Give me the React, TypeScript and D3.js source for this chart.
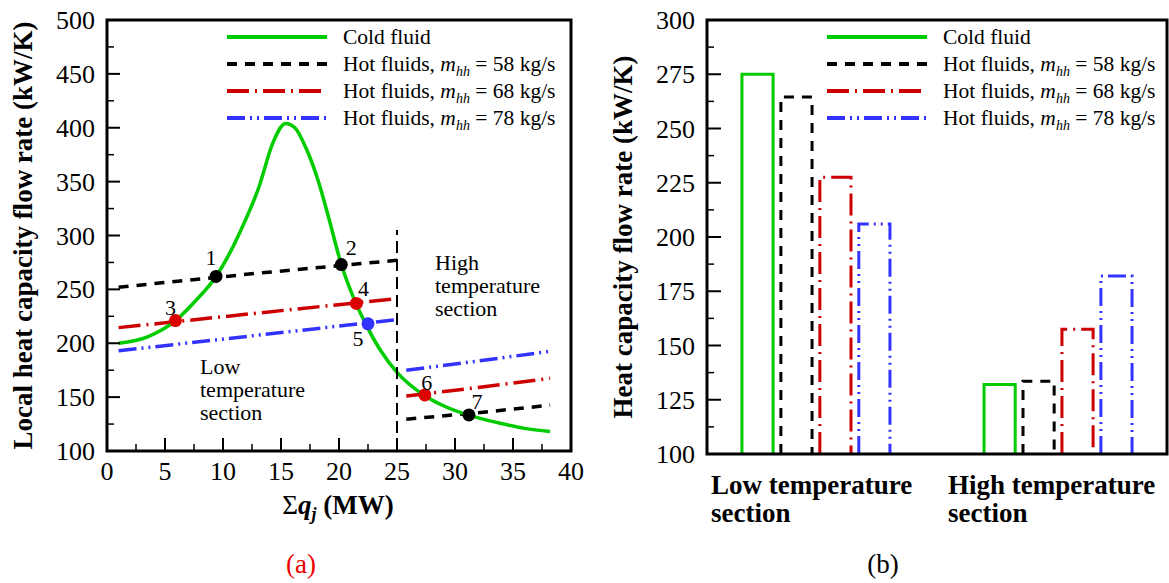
import React from 'react';
import * as d3 from 'd3';

// ---- data ----
// (a) local heat capacity flow rate vs cumulative duty
const coldQ = [1, 3.5, 5.9, 7.6, 9.4, 10.5, 11.5, 13.1, 14.3, 15.4, 16.2, 17.2, 18.2, 19.1, 20.2, 21.3, 22.3, 23.6, 25, 27.3, 29, 31.1, 33.8, 36, 38.2];
const coldC = [200, 206, 221, 239, 262, 282, 304, 345, 386, 404, 400, 380, 351, 317, 273, 241, 218, 193, 173, 152, 142, 133.5, 126, 121, 118];

const qLow = [1, 13, 25];
const qHigh = [25.8, 32, 38.2];
const hot58Low = [252, 265, 277];
const hot58High = [129.5, 135.5, 142.5];
const hot68Low = [214.5, 228, 241.5];
const hot68High = [151, 159, 167.5];
const hot78Low = [193, 207.5, 222];
const hot78High = [175, 183.5, 192.5];

const pinchLabels = ['1', '2', '3', '4', '5', '6', '7'];
const pinchQ = [9.4, 20.2, 5.9, 21.5, 22.5, 27.4, 31.2];
const pinchC = [262, 273, 221, 237, 218, 152, 133.5];
const pinchSeries = [58, 58, 68, 68, 78, 68, 58];

const sectionBoundary = 25;
const boundaryTop = 305;

// (b) section averages
const sections = ['Low temperature section', 'High temperature section'];
const coldBars = [275, 132];
const hot58Bars = [264.5, 133.5];
const hot68Bars = [227.5, 157.5];
const hot78Bars = [206, 182];

const leftTicksY = [100, 150, 200, 250, 300, 350, 400, 450, 500];
const leftTicksX = [0, 5, 10, 15, 20, 25, 30, 35, 40];
const rightTicksY = [100, 125, 150, 175, 200, 225, 250, 275, 300];

// ---- styles ----
const FONT = '"Liberation Serif", "Times New Roman", serif';
const GREEN = '#00cc00';
const RED = '#cc0000';
const BLUE = '#3333ff';

type Style = { color: string; dash: string; width: number };
const styles: Record<string, Style> = {
  cold: { color: GREEN, dash: '', width: 3.5 },
  '58': { color: '#000000', dash: '10,8', width: 3.5 },
  '68': { color: RED, dash: '22,6,2,6', width: 3.5 },
  '78': { color: BLUE, dash: '18,5,2,5,2,5', width: 3.5 },
};

// label offsets (px) for the pinch numbers
const labelDx = [-5, 10, -5, 7, -10, 2, 8];
const labelDy = [-19, -17, -13, -15, 14, -13, -14];

const L = { x0: 107, x1: 571, y0: 20, y1: 451 };
const R = { x0: 707, x1: 1167, y0: 20, y1: 454 };

const Legend: React.FC<{ x0: number; x1: number; tx: number }> = ({ x0, x1, tx }) => {
  const rows = [
    { key: 'cold', label: null },
    { key: '58', label: '58' },
    { key: '68', label: '68' },
    { key: '78', label: '78' },
  ];
  const rowY = [37, 64, 91, 118];
  return (
    <g>
      {rows.map((r, i) => (
        <g key={r.key}>
          <line x1={x0} x2={x1} y1={rowY[i]} y2={rowY[i]} stroke={styles[r.key].color}
            strokeWidth={styles[r.key].width + 0.5} strokeDasharray={styles[r.key].dash} />
          <text x={tx} y={rowY[i] + 7} fontSize={21.5} fontFamily={FONT}>
            {r.label === null ? 'Cold fluid' : (
              <>
                {'Hot fluids, '}
                <tspan fontStyle="italic">m</tspan>
                <tspan fontStyle="italic" fontSize={14} dy={5}>hh</tspan>
                <tspan dy={-5}>{` = ${r.label} kg/s`}</tspan>
              </>
            )}
          </text>
        </g>
      ))}
    </g>
  );
};

const LeftChart: React.FC = () => {
  const x = d3.scaleLinear().domain([0, 40]).range([L.x0, L.x1]);
  const y = d3.scaleLinear().domain([100, 500]).range([L.y1, L.y0]);

  const mk = (qs: number[], cs: number[], curve: d3.CurveFactory = d3.curveLinear) =>
    d3.line<number>().x((_, i) => x(qs[i])).y(d => y(d)).curve(curve)(cs) || '';

  const hot = [
    { key: '58', low: hot58Low, high: hot58High },
    { key: '68', low: hot68Low, high: hot68High },
    { key: '78', low: hot78Low, high: hot78High },
  ];

  const minorY = d3.range(125, 500, 50);
  const minorX = d3.range(2.5, 40, 5);

  return (
    <g>
      {hot.map(h => (
        <g key={h.key} fill="none" stroke={styles[h.key].color} strokeWidth={styles[h.key].width}
          strokeDasharray={styles[h.key].dash}>
          <path d={mk(qLow, h.low)} />
          <path d={mk(qHigh, h.high)} />
        </g>
      ))}
      <path d={mk(coldQ, coldC, d3.curveMonotoneX)} fill="none" stroke={GREEN} strokeWidth={3.5} />
      <line x1={x(sectionBoundary)} x2={x(sectionBoundary)} y1={y(100)} y2={y(boundaryTop)}
        stroke="#000" strokeWidth={2} strokeDasharray="12,6" />
      {pinchQ.map((q, i) => (
        <g key={i}>
          <circle cx={x(q)} cy={y(pinchC[i])} r={6.5} fill={pinchSeries[i] === 58 ? '#000' : pinchSeries[i] === 68 ? '#dd0000' : BLUE} />
          <text x={x(q) + labelDx[i]} y={y(pinchC[i]) + labelDy[i]} dy="0.35em" textAnchor="middle"
            fontSize={22} fontFamily={FONT}>{pinchLabels[i]}</text>
        </g>
      ))}
      <text fontSize={22} fontFamily={FONT}>
        <tspan x={200} y={374}>Low</tspan>
        <tspan x={200} y={397}>temperature</tspan>
        <tspan x={200} y={420}>section</tspan>
      </text>
      <text fontSize={22} fontFamily={FONT}>
        <tspan x={435} y={270}>High</tspan>
        <tspan x={435} y={293}>temperature</tspan>
        <tspan x={435} y={316}>section</tspan>
      </text>
      <Legend x0={227} x1={327} tx={343} />

      {/* axes */}
      {leftTicksY.map(t => (
        <g key={'y' + t}>
          <line x1={L.x0} x2={L.x0 + 13} y1={y(t)} y2={y(t)} stroke="#000" strokeWidth={2} />
          <text x={L.x0 - 12} y={y(t)} dy="0.35em" textAnchor="end" fontSize={26} fontFamily={FONT}>{t}</text>
        </g>
      ))}
      {minorY.map(t => (
        <line key={'my' + t} x1={L.x0} x2={L.x0 + 7} y1={y(t)} y2={y(t)} stroke="#000" strokeWidth={1.5} />
      ))}
      {leftTicksX.map(t => (
        <g key={'x' + t}>
          <line x1={x(t)} x2={x(t)} y1={L.y1} y2={L.y1 - 13} stroke="#000" strokeWidth={2} />
          <text x={x(t)} y={L.y1 + 20} dy="0.35em" textAnchor="middle" fontSize={26} fontFamily={FONT}>{t}</text>
        </g>
      ))}
      {minorX.map(t => (
        <line key={'mx' + t} x1={x(t)} x2={x(t)} y1={L.y1} y2={L.y1 - 7} stroke="#000" strokeWidth={1.5} />
      ))}
      <rect x={L.x0} y={L.y0} width={L.x1 - L.x0} height={L.y1 - L.y0} fill="none" stroke="#000" strokeWidth={3} />

      <text transform={`translate(32,${(L.y0 + L.y1) / 2}) rotate(-90)`} textAnchor="middle"
        fontSize={27} fontWeight="bold" fontFamily={FONT}>Local heat capacity flow rate (kW/K)</text>
      <text x={338} y={514} textAnchor="middle" fontSize={27} fontWeight="bold" fontFamily={FONT}>
        <tspan fontWeight="normal">Σ</tspan>
        <tspan fontStyle="italic">q</tspan>
        <tspan fontStyle="italic" fontSize={18} dy={6}>j</tspan>
        <tspan dy={-6}> (MW)</tspan>
      </text>
      <text x={301} y={573} textAnchor="middle" fontSize={27} fill="#ee0000" fontFamily={FONT}>(a)</text>
    </g>
  );
};

const RightChart: React.FC = () => {
  const y = d3.scaleLinear().domain([100, 300]).range([R.y1, R.y0]);
  const xs = d3.scalePoint<string>().domain(sections).range([R.x0, R.x1]).padding(0.45);
  const keys = ['cold', '58', '68', '78'];
  const inner = d3.scaleBand<string>().domain(keys).range([-74, 74]).paddingInner(0.2);
  const values: Record<string, number[]> = { cold: coldBars, '58': hot58Bars, '68': hot68Bars, '78': hot78Bars };
  const minorY = d3.range(112.5, 300, 25);

  return (
    <g>
      {sections.map((s, si) => (
        <g key={s}>
          {keys.map(k => {
            const x0 = (xs(s) || 0) + (inner(k) || 0);
            const x1 = x0 + inner.bandwidth();
            const top = y(values[k][si]);
            return (
              <path key={k} d={`M${x0},${R.y1}V${top}H${x1}V${R.y1}`} fill="none"
                stroke={styles[k].color} strokeWidth={3} strokeDasharray={styles[k].dash} />
            );
          })}
        </g>
      ))}
      <Legend x0={827} x1={927} tx={943} />

      {rightTicksY.map(t => (
        <g key={'y' + t}>
          <line x1={R.x0} x2={R.x0 + 14} y1={y(t)} y2={y(t)} stroke="#000" strokeWidth={2} />
          <text x={R.x0 - 12} y={y(t)} dy="0.35em" textAnchor="end" fontSize={26} fontFamily={FONT}>{t}</text>
        </g>
      ))}
      {minorY.map(t => (
        <line key={'my' + t} x1={R.x0} x2={R.x0 + 7} y1={y(t)} y2={y(t)} stroke="#000" strokeWidth={1.5} />
      ))}
      <rect x={R.x0} y={R.y0} width={R.x1 - R.x0} height={R.y1 - R.y0} fill="none" stroke="#000" strokeWidth={3} />

      {sections.map((s, i) => {
        const words = s.split(' ');
        const tx = i === 0 ? 711 : 948;
        return (
          <text key={s} fontSize={27} fontWeight="bold" fontFamily={FONT}>
            <tspan x={tx} y={494}>{words.slice(0, 2).join(' ')}</tspan>
            <tspan x={tx} y={522}>{words[2]}</tspan>
          </text>
        );
      })}

      <text transform={`translate(632,${(R.y0 + R.y1) / 2}) rotate(-90)`} textAnchor="middle"
        fontSize={27} fontWeight="bold" fontFamily={FONT}>Heat capacity flow rate (kW/K)</text>
      <text x={883} y={573} textAnchor="middle" fontSize={27} fontFamily={FONT}>(b)</text>
    </g>
  );
};

const App: React.FC = () => (
  <svg width={1169} height={583} viewBox="0 0 1169 583"
    style={{ position: 'absolute', left: 0, top: 0, background: '#fff' }}>
    <rect width={1169} height={583} fill="#fff" />
    <LeftChart />
    <RightChart />
  </svg>
);

export default App;
